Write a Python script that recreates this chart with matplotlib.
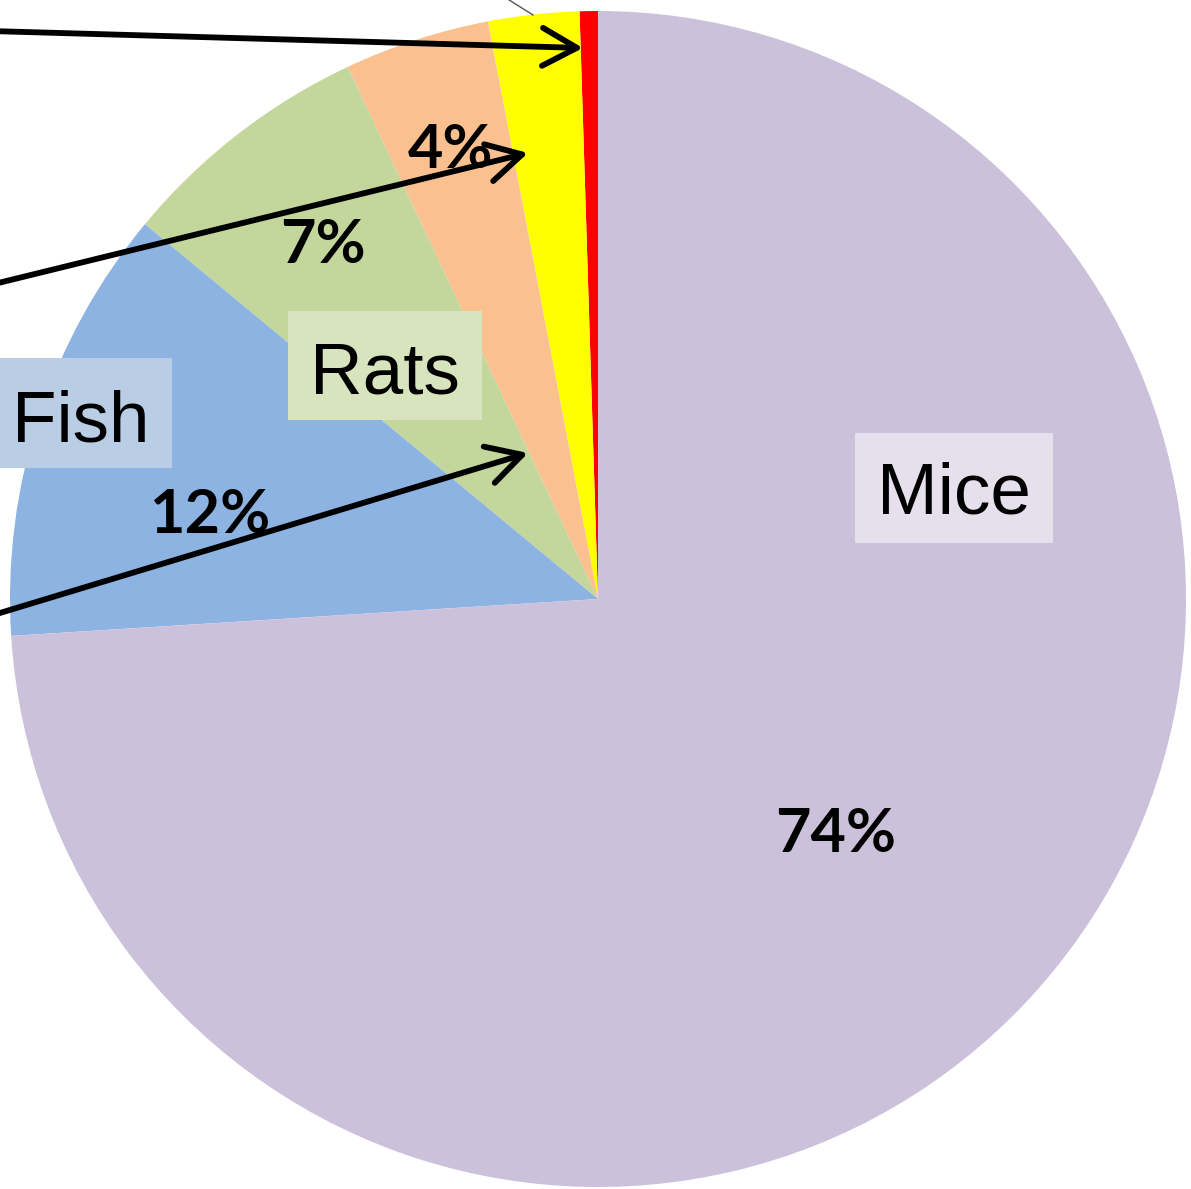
import matplotlib
matplotlib.use("Agg")
import matplotlib.pyplot as plt
from matplotlib.patches import Rectangle

# ---- data ----
categories = ["Other (red)", "Other (yellow)", "Other (orange)", "Rats", "Fish", "Mice"]
values = [0.5, 2.5, 4, 7, 12, 74]
colors = ["#FF0000", "#FFFF00", "#FAC090", "#C3D69B", "#8DB3E2", "#CCC1DA"]
pct_labels = {"Mice": "74%", "Fish": "12%", "Rats": "7%", "Other (orange)": "4%"}

W, H = 1191, 1189
CX, CY, R = 598, 599, 588


def px(x, y):
    """pixel position -> data coordinates (pie centre at 0,0 radius 1)"""
    return ((x - CX) / R, (CY - y) / R)


fig = plt.figure(figsize=(W / 100, H / 100), dpi=100)
ax = fig.add_axes([0, 0, 1, 1])
ax.pie(values, colors=colors, startangle=90, counterclock=True,
       wedgeprops=dict(linewidth=0))
ax.set_xlim(px(0, 0)[0], px(W, 0)[0])
ax.set_ylim(px(0, H)[1], px(0, 0)[1])
ax.axis("off")

# category label boxes
boxes = {
    "Mice": ((855, 433, 1053, 543), "#E6E0EC", (954, 514)),
    "Fish": ((-5, 358, 172, 468), "#B9CDE5", (81, 441)),
    "Rats": ((288, 311, 482, 420), "#D7E4BD", (385, 393)),
}
for name, ((x0, y0, x1, y1), fc, (tx, ty)) in boxes.items():
    a = px(x0, y1)
    b = px(x1, y0)
    ax.add_patch(Rectangle(a, b[0] - a[0], b[1] - a[1], facecolor=fc,
                           edgecolor="none", zorder=3))
    ax.text(*px(tx, ty), name, ha="center", va="baseline",
            fontsize=52.5, family="Liberation Sans", color="black", zorder=4)

# percentage labels
pct_pos = {"Mice": (836, 852), "Fish": (210, 533), "Rats": (323, 263),
           "Other (orange)": (451, 168)}
for name, lab in pct_labels.items():
    ax.text(*px(*pct_pos[name]), lab, ha="center", va="baseline",
            fontsize=44, family="Lato", fontweight="bold", color="black",
            zorder=5)

# arrows from off-image labels
arrows = [((-10, 31), (583, 48)), ((-10, 285), (528, 153)), ((-10, 616), (528, 453))]
for (sx, sy), (ex, ey) in arrows:
    ax.annotate("", xy=px(ex, ey), xytext=px(sx, sy),
                arrowprops=dict(arrowstyle="->,head_length=0.4,head_width=0.22",
                                mutation_scale=62, lw=4.2, color="black",
                                shrinkA=0, shrinkB=0, capstyle="round",
                                joinstyle="round"),
                zorder=6)

# thin grey leader line at the top
ax.plot(*zip(px(506, -2), px(533, 15)), color="#555555", lw=1, zorder=2)

fig.savefig("out.png", dpi=100)
